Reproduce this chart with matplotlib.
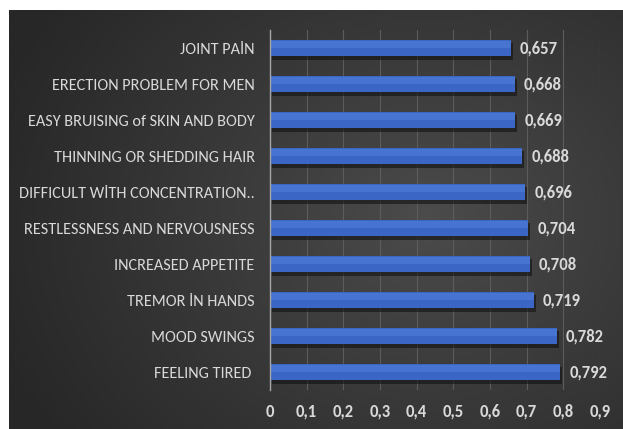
import numpy as np
import matplotlib
matplotlib.use("Agg")
import matplotlib.pyplot as plt
import matplotlib.patheffects as pe

categories = ["JOINT PAİN", "ERECTION PROBLEM FOR MEN", "EASY BRUISING of SKIN AND BODY",
              "THINNING OR SHEDDING HAIR", "DIFFICULT WİTH CONCENTRATION..",
              "RESTLESSNESS AND NERVOUSNESS", "INCREASED APPETITE", "TREMOR İN HANDS",
              "MOOD SWINGS", "FEELING TIRED "]
values = [0.657, 0.668, 0.669, 0.688, 0.696, 0.704, 0.708, 0.719, 0.782, 0.792]
xticks = [0, 0.1, 0.2, 0.3, 0.4, 0.5, 0.6, 0.7, 0.8, 0.9]

plt.rcParams['font.family'] = ['Carlito', 'Asap Condensed', 'DejaVu Sans Condensed', 'DejaVu Sans']
txt = '#d9d9d9'

W, H = 623, 429
fig = plt.figure(figsize=(W/100, H/100), dpi=100, facecolor='white')

# background panel with radial gradient
bg = fig.add_axes([9/W, 0, (W-9)/W, (H-10)/H])
bg.set_axis_off()
ny, nx = 200, 300
yy, xx = np.mgrid[0:ny, 0:nx]
cx, cy = 0.68*nx, 0.5*ny
r = np.sqrt(((xx-cx)/(nx*0.75))**2 + ((yy-cy)/(ny*0.9))**2)
r = np.clip(r, 0, 1)
lo, hi = 0x27/255, 0x4c/255
val = hi - (hi-lo)*r**0.9
img = np.dstack([val, val, val])
bg.imshow(img, aspect='auto', extent=[0, 1, 0, 1], interpolation='bilinear')
bg.set_xlim(0, 1); bg.set_ylim(0, 1)

ax = fig.add_axes([270/W, 1-390/H, (600-270)/W, 360/H])
ax.patch.set_alpha(0)
y = np.arange(len(categories))
ax.barh(y, values, height=0.45, color='#3b66c6', zorder=3,
        path_effects=[pe.SimplePatchShadow(offset=(1.5, -2.5), shadow_rgbFace='#111111', alpha=0.6),
                      pe.Normal()])
# subtle lighter upper half
ax.barh(y - 0.1, values, height=0.2, color='#4674d0', zorder=4, linewidth=0)

for yi, v in zip(y, values):
    ax.text(v + 0.025, yi, f"{v:.3f}".replace('.', ','), color=txt, fontsize=12,
            fontweight='bold', va='center', ha='left', zorder=5)

ax.set_xlim(0, 0.9)
ax.set_ylim(len(categories)-0.5, -0.5)
ax.set_xticks(xticks)
ax.set_xticklabels([("0" if t == 0 else f"{t:.1f}".replace('.', ',')) for t in xticks],
                   color=txt, fontsize=12, fontweight='bold')
ax.set_yticks(y)
ax.set_yticklabels(categories, color=txt, fontsize=11.7)
ax.tick_params(axis='both', length=0)
ax.tick_params(axis='y', pad=11)
ax.tick_params(axis='x', pad=10)
ax.grid(axis='x', color='#5c5c5c', linewidth=0.8, zorder=0)
ax.set_axisbelow(True)
for s in ['top', 'right', 'bottom']:
    ax.spines[s].set_visible(False)
ax.spines['left'].set_color('#a6a6a6')
ax.spines['left'].set_linewidth(1.0)
ax.spines['left'].set_zorder(6)

fig.savefig('out.png', dpi=100, facecolor='white')
